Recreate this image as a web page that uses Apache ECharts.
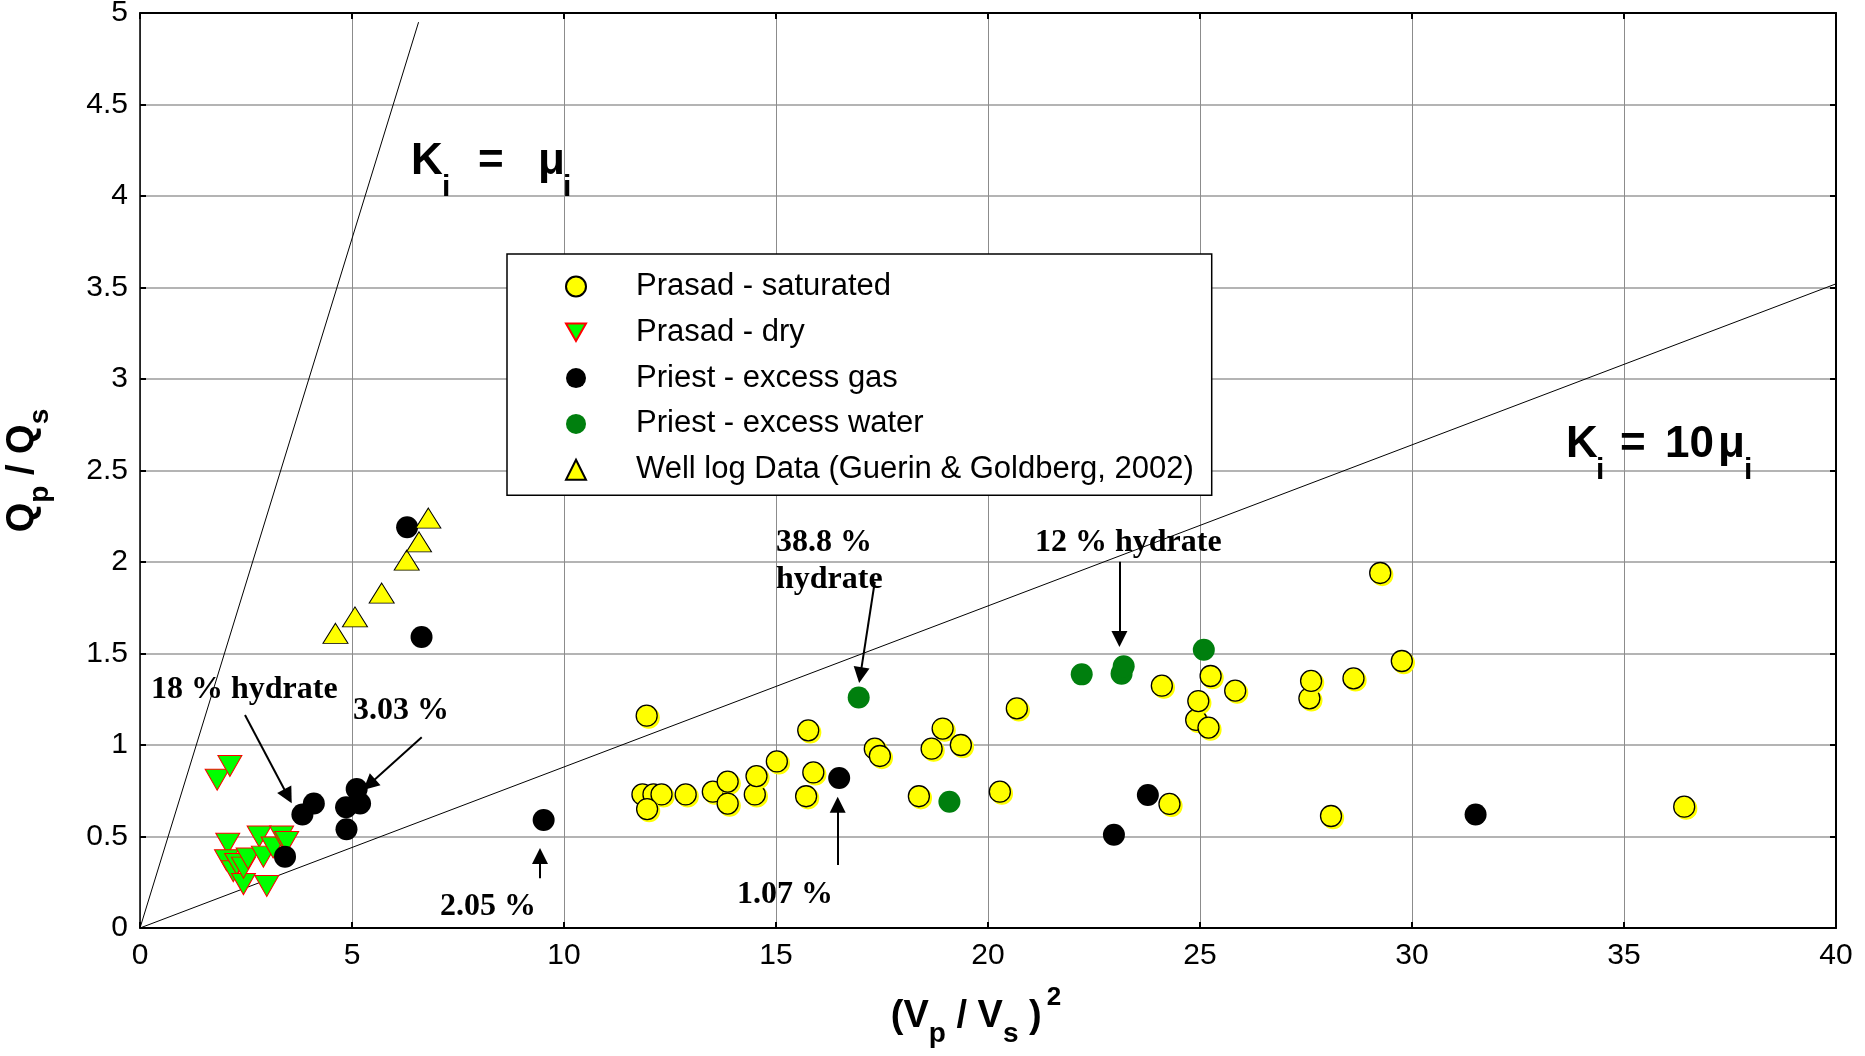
<!DOCTYPE html>
<html><head><meta charset="utf-8">
<script src="https://cdn.jsdelivr.net/npm/echarts@6/dist/echarts.min.js"></script>
<style>html,body{margin:0;padding:0;background:#fff}#c{width:1865px;height:1056px}</style>
</head><body><div id="c"></div>
<script>
// ---- data ----
const xRange = [0, 40], xStep = 5;
const yRange = [0, 5], yStep = 0.5;

const prasadSaturated = [
  [11.85,0.73],[12.11,0.73],[12.30,0.73],[11.96,0.65],[11.95,1.16],[12.87,0.73],[13.51,0.745],
  [13.86,0.80],[13.86,0.68],[14.50,0.73],[14.54,0.83],[15.02,0.91],[15.71,0.72],[15.76,1.08],
  [15.88,0.85],[17.33,0.98],[17.45,0.94],[18.37,0.72],[18.67,0.98],[18.93,1.09],[19.36,1.00],
  [20.28,0.745],[20.68,1.20],[24.10,1.324],[24.28,0.678],[24.91,1.137],[24.96,1.24],[25.20,1.095],
  [25.25,1.377],[25.83,1.297],[27.58,1.255],[27.62,1.35],[28.09,0.612],[28.62,1.364],[29.25,1.94],
  [29.76,1.459],[36.42,0.663]
];
const prasadDry = [
  [1.82,0.81],[2.12,0.885],[2.07,0.46],[2.04,0.37],[2.20,0.31],[2.28,0.35],[2.44,0.24],[2.44,0.33],
  [2.55,0.38],[2.81,0.50],[2.91,0.39],[2.99,0.23],[3.14,0.44],[3.34,0.50],[3.46,0.47]
];
const priestGas = [
  [3.42,0.39],[3.83,0.62],[4.10,0.68],[4.86,0.66],[4.87,0.54],[5.11,0.76],[5.19,0.68],[6.30,2.19],
  [6.64,1.59],[9.52,0.59],[16.49,0.82],[22.97,0.51],[23.77,0.727],[31.50,0.62]
];
const priestWater = [
  [16.95,1.26],[19.09,0.69],[22.21,1.386],[23.15,1.39],[23.20,1.43],[25.09,1.52]
];
const wellLog = [
  [4.61,1.61],[5.07,1.70],[5.70,1.83],[6.29,2.01],[6.58,2.11],[6.80,2.24]
];
const lineKeqMu = [[0,0],[6.57,4.95]];
const lineK10Mu = [[0,0],[40,3.52]];
const arrowSegments = [
  [[17.33,1.892],[16.99,1.382]],
  [[23.10,2.002],[23.10,1.579]],
  [[2.476,1.164],[3.49,0.720]],
  [[6.644,1.042],[5.406,0.784]],
  [[9.434,0.272],[9.434,0.393]],
  [[16.455,0.344],[16.455,0.674]]
];
const seriesNames = ['Prasad - saturated','Prasad - dry','Priest - excess gas','Priest - excess water','Well log Data (Guerin & Goldberg, 2002)'];

// ---- chart ----
const SANS = '"Liberation Sans", Arial, sans-serif';
const SERIF = '"Liberation Serif", "Times New Roman", serif';
const chart = echarts.init(document.getElementById('c'), null, {renderer:'canvas'});

function txt(text, left, baseline, size, family, weight) {
  return {type:'text', x:left, y: baseline - 0.31*size, z:100,
    style:{text:text, fontSize:size, fontFamily:family, fontWeight:weight||'bold', fill:'#000', align:'left', verticalAlign:'middle'}};
}
const annotations = [
  txt('K', 411, 175, 44, SANS), txt('i', 442, 197, 30, SANS), txt('=', 478, 175, 44, SANS),
  txt('\u03bc', 538, 175, 44, SANS), txt('i', 563, 197, 30, SANS),
  txt('K', 1566, 458, 44, SANS), txt('i', 1596, 480, 30, SANS), txt('=', 1620, 458, 44, SANS),
  txt('10', 1665, 458, 44, SANS), txt('\u03bc', 1718, 458, 44, SANS), txt('i', 1744, 480, 30, SANS),
  txt('18 % hydrate', 151, 700, 32, SERIF),
  txt('3.03 %', 353, 721, 32, SERIF),
  txt('2.05 %', 440, 917, 32, SERIF),
  txt('1.07 %', 737, 905, 32, SERIF),
  txt('38.8 %', 776, 553, 32, SERIF),
  txt('hydrate', 776, 590, 32, SERIF),
  txt('12 % hydrate', 1035, 553, 32, SERIF)
];

const tickLabel = {fontSize:30, fontFamily:SANS, color:'#000'};
const option = {
  animation:false,
  backgroundColor:'#fff',
  grid:{left:140, right:29, top:13, bottom:128, outerBoundsMode:'none', containLabel:false},
  xAxis:[{
    type:'value', min:xRange[0], max:xRange[1], interval:xStep, position:'bottom',
    axisLine:{show:true, onZero:false, lineStyle:{color:'#000', width:2}},
    axisTick:{show:true, inside:true, length:6, lineStyle:{color:'#000', width:2}},
    axisLabel:Object.assign({margin:13}, tickLabel),
    splitLine:{show:true, lineStyle:{color:'#8c8c8c', width:1}},
    name:'{m|(V}{s|p}{m| / V}{s|s}{m| )}{u|2}', nameLocation:'middle', nameGap:57, nameMoveOverlap:false,
    nameTextStyle:{rich:{
      m:{fontSize:38, fontWeight:'bold', fontFamily:SANS, color:'#000', verticalAlign:'top', padding:[13,0,0,0]},
      s:{fontSize:28, fontWeight:'bold', fontFamily:SANS, color:'#000', verticalAlign:'top', padding:[35,0,0,0]},
      u:{fontSize:26, fontWeight:'bold', fontFamily:SANS, color:'#000', verticalAlign:'top', padding:[0,24,0,5]}
    }}
  },{
    type:'value', min:xRange[0], max:xRange[1], interval:xStep, position:'top',
    axisLine:{show:true, onZero:false, lineStyle:{color:'#000', width:2}},
    axisTick:{show:true, inside:true, length:6, lineStyle:{color:'#000', width:2}},
    axisLabel:{show:false}, splitLine:{show:false}
  }],
  yAxis:[{
    type:'value', min:yRange[0], max:yRange[1], interval:yStep, position:'left',
    axisLine:{show:true, onZero:false, lineStyle:{color:'#000', width:1.5}},
    axisTick:{show:true, inside:true, length:6, lineStyle:{color:'#000', width:2}},
    axisLabel:Object.assign({margin:12}, tickLabel),
    splitLine:{show:true, lineStyle:{color:'#b4b4b4', width:2}},
    name:'{m|Q}{s|p}{m| / Q}{s|s}', nameLocation:'middle', nameRotate:90, nameGap:86, nameMoveOverlap:false,
    nameTextStyle:{rich:{
      m:{fontSize:38, fontWeight:'bold', fontFamily:SANS, color:'#000', verticalAlign:'top'},
      s:{fontSize:28, fontWeight:'bold', fontFamily:SANS, color:'#000', verticalAlign:'top', padding:[22,0,0,0]}
    }}
  },{
    type:'value', min:yRange[0], max:yRange[1], interval:yStep, position:'right',
    axisLine:{show:true, onZero:false, lineStyle:{color:'#000', width:2}},
    axisTick:{show:true, inside:true, length:6, lineStyle:{color:'#000', width:2}},
    axisLabel:{show:false}, splitLine:{show:false}
  }],
  legend:{
    orient:'vertical', left:507, top:254, selectedMode:false,
    padding:[17,18,10,58], itemWidth:20, itemHeight:20, itemGap:14.8,
    backgroundColor:'#fff', borderColor:'#000', borderWidth:1.5, borderRadius:0,
    textStyle:{fontSize:31, fontFamily:SANS, color:'#000', lineHeight:31, padding:[0,0,0,45]},
    data:seriesNames
  },
  graphic:annotations,
  series:[
    {type:'line', data:lineKeqMu, showSymbol:false, symbol:'none', silent:true, z:1,
     lineStyle:{color:'#000', width:1}},
    {type:'line', data:lineK10Mu, showSymbol:false, symbol:'none', silent:true, z:1,
     lineStyle:{color:'#000', width:1},
     markLine:{silent:true, symbol:['none','triangle'], symbolSize:16, label:{show:false},
       lineStyle:{color:'#000', width:2, type:'solid'},
       itemStyle:{color:'#000'},
       data:arrowSegments.map(s => [{coord:s[0]},{coord:s[1]}])}},
    {name:seriesNames[0], type:'scatter', data:prasadSaturated, symbol:'circle', symbolSize:21, z:3,
     itemStyle:{color:'#ffff00', borderColor:'#000', borderWidth:1.3, opacity:1,
       shadowColor:'#ffff00', shadowOffsetX:2, shadowOffsetY:2, shadowBlur:0}},
    {name:seriesNames[1], type:'scatter', data:prasadDry, symbol:'path://M0,0L24,0L12,21Z', symbolSize:[24,21], z:3,
     itemStyle:{color:'#00ff00', borderColor:'#ff0000', borderWidth:1, opacity:1}},
    {name:seriesNames[2], type:'scatter', data:priestGas, symbol:'circle', symbolSize:22, z:3,
     itemStyle:{color:'#000', opacity:1}},
    {name:seriesNames[3], type:'scatter', data:priestWater, symbol:'circle', symbolSize:22, z:3,
     itemStyle:{color:'#007f0e', opacity:1}},
    {name:seriesNames[4], type:'scatter', data:wellLog, symbol:'triangle', symbolSize:[25,20], z:3,
     itemStyle:{color:'#ffff00', borderColor:'#000', borderWidth:1, opacity:1}}
  ]
};
chart.setOption(option);
</script>
</body></html>
